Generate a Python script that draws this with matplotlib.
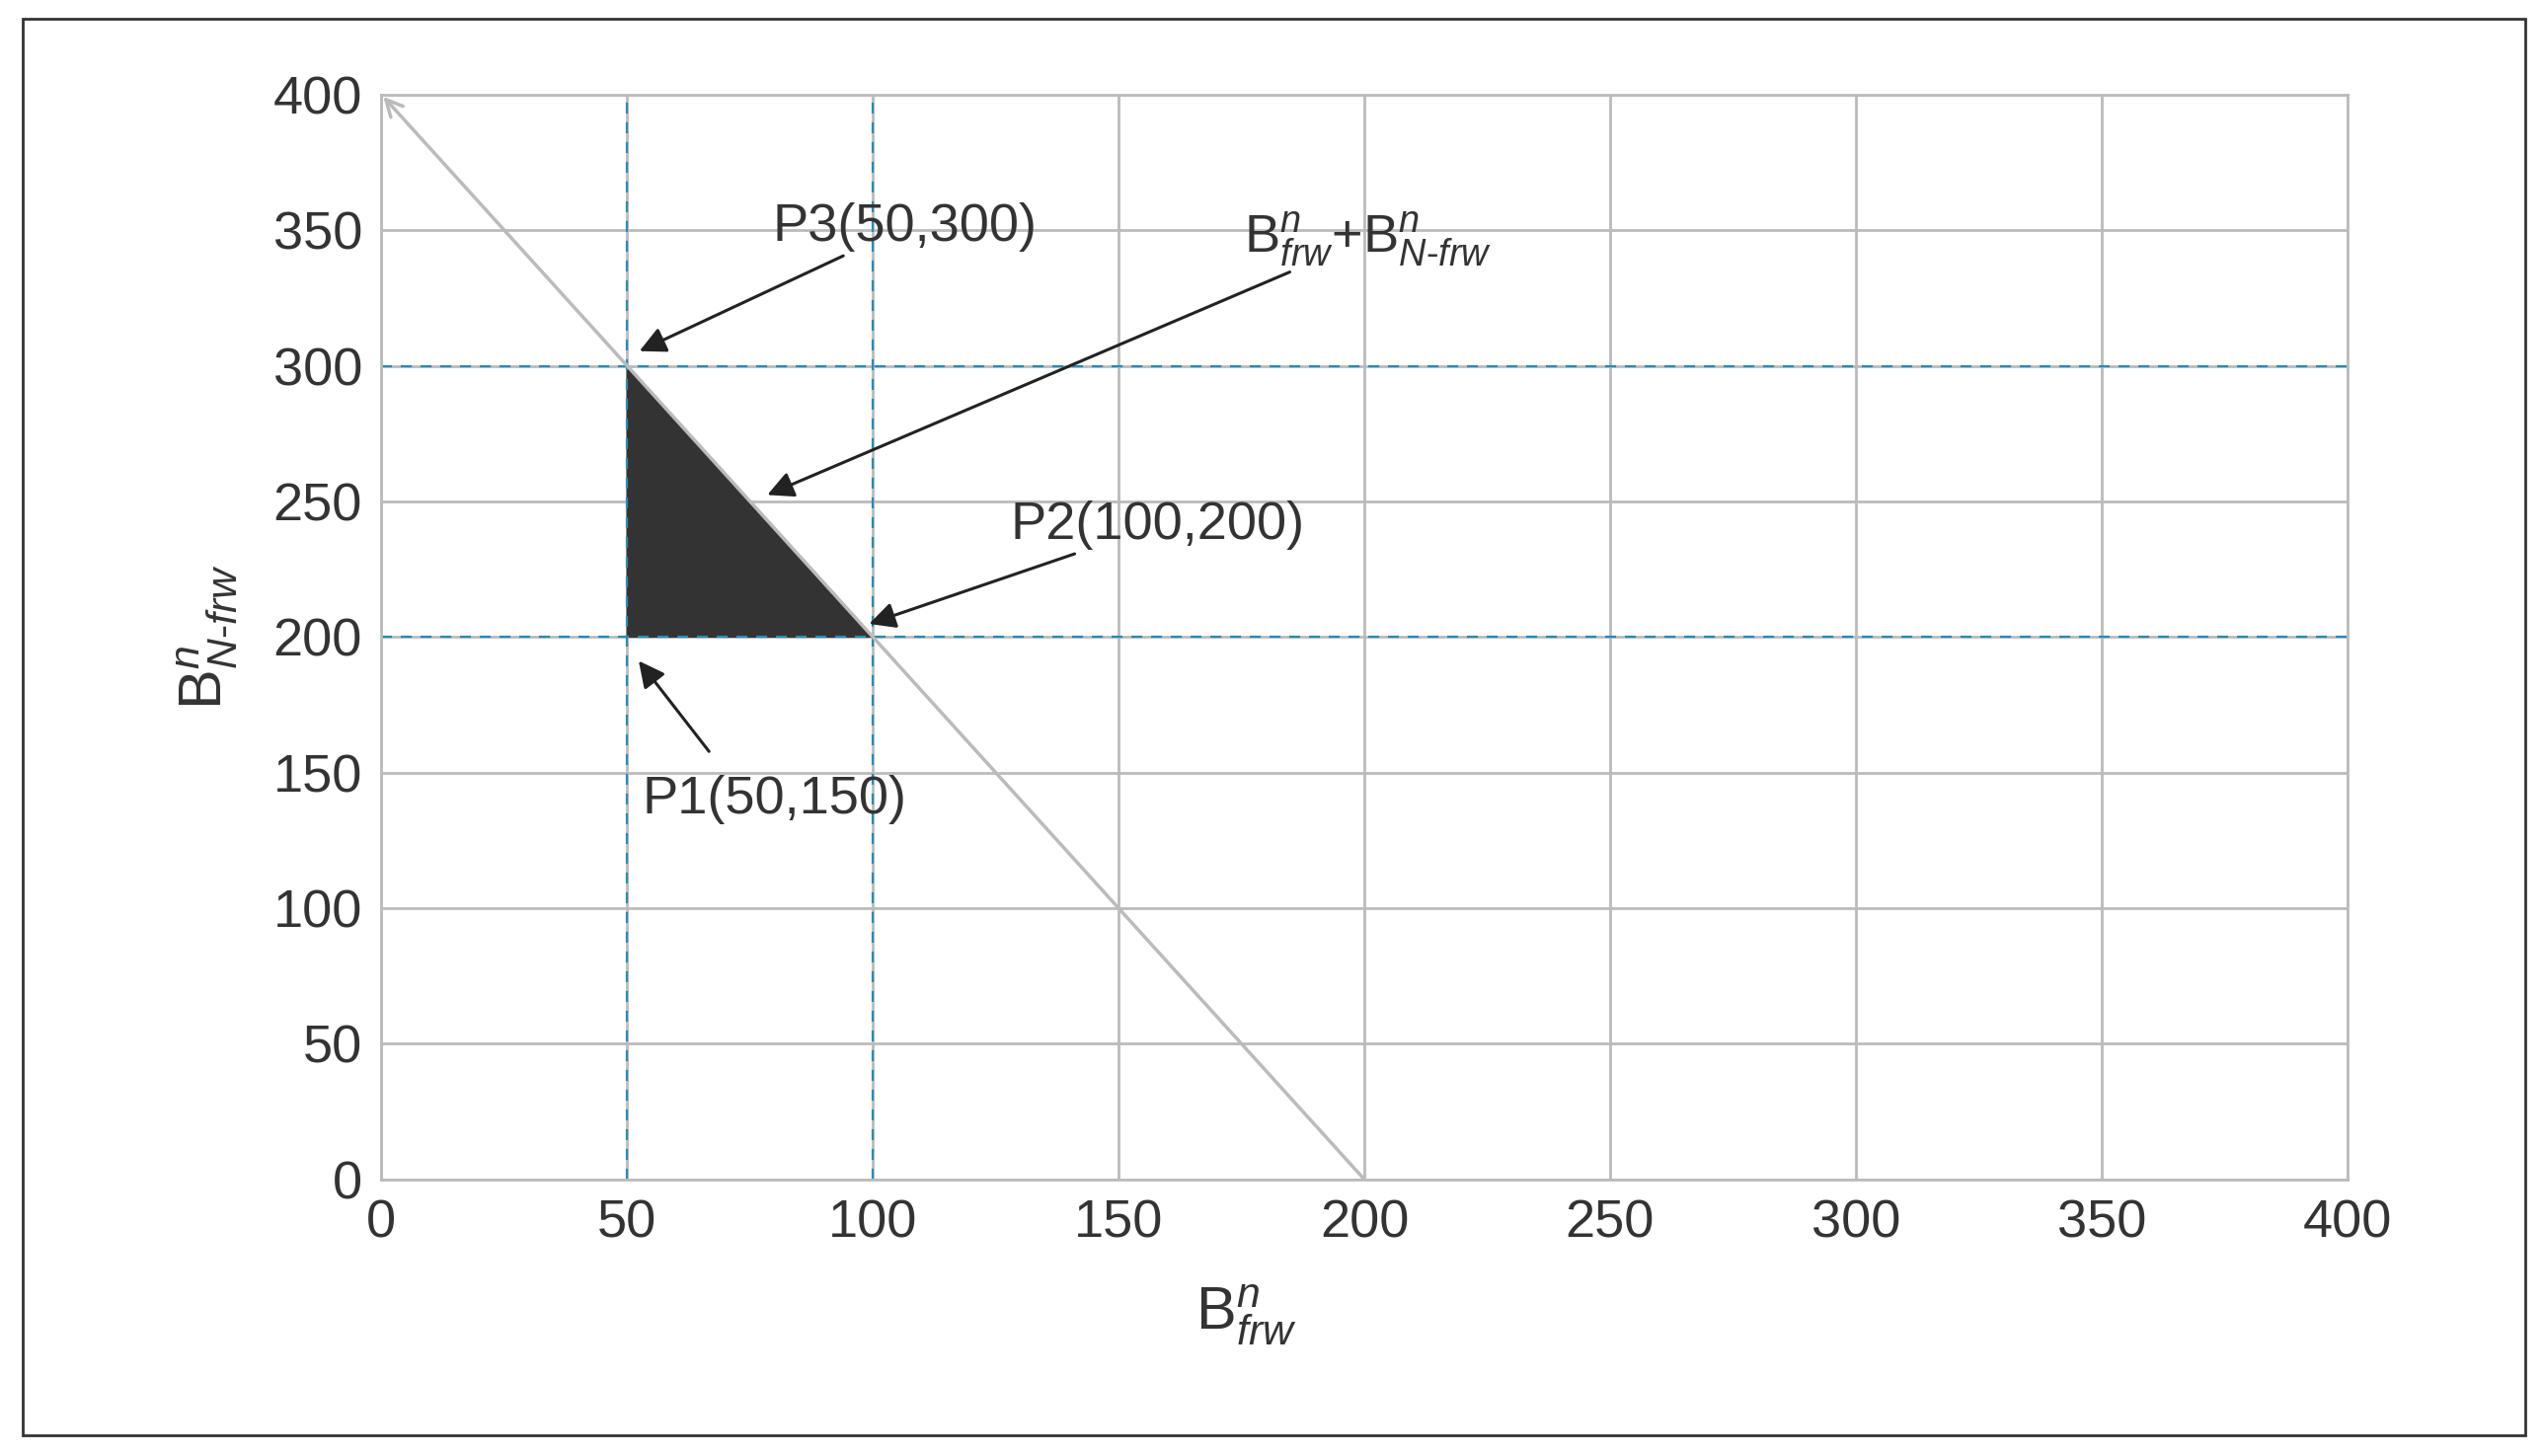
import matplotlib.pyplot as plt
from matplotlib.patches import Polygon, Rectangle

plt.rcParams['font.family'] = ['Liberation Sans', 'DejaVu Sans']
plt.rcParams['mathtext.fontset'] = 'custom'
plt.rcParams['mathtext.rm'] = 'Liberation Sans'
plt.rcParams['mathtext.it'] = 'Liberation Sans:italic'

# data
ticks = [0, 50, 100, 150, 200, 250, 300, 350, 400]
tri_x = [50, 50, 100]
tri_y = [200, 300, 200]
diag_x = [200, 0]
diag_y = [0, 400]
dash_x = [50, 100]
dash_y = [200, 300]

fig = plt.figure(figsize=(25.76, 14.75), dpi=100)
fig.patches.append(Rectangle((0.009, 0.014), 0.984, 0.973, transform=fig.transFigure,
                             fill=False, edgecolor='#333333', linewidth=2))
ax = fig.add_axes([0.150, 0.190, 0.773, 0.745])
ax.set_xlim(0, 400)
ax.set_ylim(0, 400)
ax.set_xticks(ticks)
ax.set_yticks(ticks)
ax.grid(True, color='#bbbbbb', linewidth=2)
ax.set_axisbelow(True)
for s in ax.spines.values():
    s.set_color('#bbbbbb')
    s.set_linewidth(2)
ax.tick_params(length=0, labelsize=39, colors='#333333', pad=14)

for x in dash_x:
    ax.axvline(x, color='#2a8ab8', linestyle='--', linewidth=1.6, dashes=(5, 4))
for y in dash_y:
    ax.axhline(y, color='#2a8ab8', linestyle='--', linewidth=1.6, dashes=(5, 4))

ax.add_patch(Polygon(list(zip(tri_x, tri_y)), closed=True, facecolor='#333333', edgecolor='#333333'))
ax.annotate('', xy=(diag_x[1], diag_y[1]), xytext=(diag_x[0], diag_y[0]),
            arrowprops=dict(arrowstyle='->', color='#bbbbbb', lw=2.5, mutation_scale=30))

arrow = dict(arrowstyle='-|>', color='#222222', lw=2.2, mutation_scale=40)
fs = 39
ax.annotate('P3(50,300)', xy=(52, 305), xytext=(79.5, 342), arrowprops=arrow,
            fontsize=fs, ha='left', va='bottom', color='#333333')
ax.annotate(r'B$^{n}_{frw}$+B$^{n}_{N\text{-}frw}$', xy=(78, 252), xytext=(175.5, 336),
            arrowprops=arrow, fontsize=fs, ha='left', va='bottom', color='#333333')
ax.annotate('P2(100,200)', xy=(98.7, 204.5), xytext=(128, 232), arrowprops=arrow,
            fontsize=fs, ha='left', va='bottom', color='#333333')
ax.annotate('', xy=(52, 192), xytext=(67, 157), arrowprops=arrow)
ax.text(53, 140, 'P1(50,150)', fontsize=fs, ha='left', va='center', color='#333333')

ax.set_xlabel(r'B$^{n}_{frw}$', fontsize=44, color='#333333', labelpad=8)
ax.xaxis.set_label_coords(0.44, -0.095)
ax.set_ylabel(r'B$^{n}_{N\text{-}frw}$', fontsize=44, color='#333333', labelpad=24)

fig.savefig('out.png', dpi=100)
